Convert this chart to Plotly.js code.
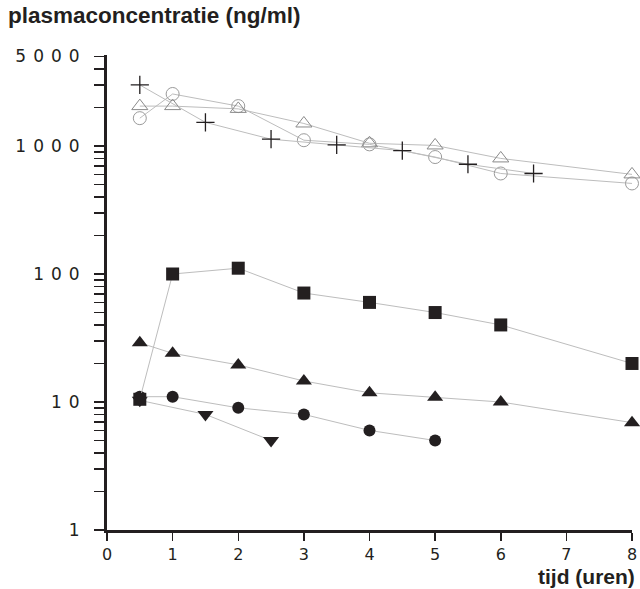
<!DOCTYPE html>
<html>
<head>
<meta charset="utf-8">
<script src="https://cdn.plot.ly/plotly-3.0.1.min.js"></script>
<style>
  html, body { margin: 0; padding: 0; background: #fff; }
  #chart { width: 640px; height: 589px; }
  .ytick text { letter-spacing: 7px; }
</style>
</head>
<body>
<div id="chart"></div>
<script>
// ---- data ----
const crossX   = [0.5, 1.5, 2.5, 3.5, 4.5, 5.5, 6.5];
const crossY   = [3000, 1530, 1130, 1020, 920, 720, 610];

const openTriX = [0.5, 1, 2, 3, 4, 5, 6, 8];
const openTriY = [2050, 2050, 1950, 1500, 1050, 1010, 800, 600];

const openCirX = [0.5, 1, 2, 3, 4, 5, 6, 8];
const openCirY = [1650, 2550, 2050, 1110, 1030, 820, 610, 510];

const squareX  = [0.5, 1, 2, 3, 4, 5, 6, 8];
const squareY  = [10.5, 100, 111, 71, 60, 50, 40, 20];

const triUpX   = [0.5, 1, 2, 3, 4, 5, 6, 8];
const triUpY   = [29, 24, 19.5, 14.6, 11.8, 10.9, 10, 6.9];

const dotX     = [0.5, 1, 2, 3, 4, 5];
const dotY     = [11, 11, 9, 8, 6, 5];

const triDnX   = [0.5, 1.5, 2.5];
const triDnY   = [10.3, 8, 5];

const yTickVals = [1,2,3,4,5,6,7,8,9,10,20,30,40,50,60,70,80,90,100,200,300,400,500,600,700,800,900,1000,2000,3000,4000,5000];
const yLabelled = {1:'1', 10:'10', 100:'100', 1000:'1000', 5000:'5000'};
const yTickText = yTickVals.map(v => yLabelled[v] || '');
const xTickVals = [0,1,2,3,4,5,6,7,8];
const xTickText = ['0','1','2','3','4','5','6','7','8'];

// ---- styles ----
const INK = '#231f20';
const LINE = {color: '#bdbdbd', width: 1};

function tr(x, y, marker) {
  return {x: x, y: y, type: 'scatter', mode: 'lines+markers', line: LINE,
          marker: marker, cliponaxis: false, hoverinfo: 'x+y', showlegend: false};
}

const data = [
  tr(triDnX, triDnY, {symbol: 'triangle-down', size: 14, color: INK}),
  tr(dotX, dotY, {symbol: 'circle', size: 12, color: INK}),
  tr(triUpX, triUpY, {symbol: 'triangle-up', size: 14, color: INK}),
  tr(squareX, squareY, {symbol: 'square', size: 13, color: INK}),
  tr(openCirX, openCirY, {symbol: 'circle-open', size: 13, color: '#9a9a9a', line: {width: 1, color: '#9a9a9a'}}),
  tr(openTriX, openTriY, {symbol: 'triangle-up-open', size: 14, color: '#8a8a8a', line: {width: 1, color: '#8a8a8a'}}),
  tr(crossX, crossY, {symbol: 'cross-thin-open', size: 13, color: INK, line: {width: 1.3, color: INK}})
];

const yTickFont = {family: 'DejaVu Sans, sans-serif', size: 17, color: INK};
const xTickFont = {family: 'DejaVu Sans, sans-serif', size: 16, color: INK};

const layout = {
  width: 640, height: 589,
  margin: {l: 107, r: 8, t: 55, b: 59},
  paper_bgcolor: '#fff', plot_bgcolor: '#fff',
  title: {
    text: '<b>plasmaconcentratie (ng/ml)</b>',
    font: {family: 'Liberation Sans, Arial, sans-serif', size: 22.5, color: INK},
    x: 8/640, xanchor: 'left', xref: 'container',
    y: 1 - 7/589, yanchor: 'top', yref: 'container'
  },
  xaxis: {
    range: [0, 8], showgrid: false, zeroline: false,
    showline: true, linewidth: 3, linecolor: INK,
    ticks: 'outside', ticklen: 8, tickwidth: 1.5, tickcolor: INK,
    tickvals: xTickVals, ticktext: xTickText,
    tickfont: xTickFont, ticklabelstandoff: 0
  },
  yaxis: {
    type: 'log', range: [0, 3.711], showgrid: false, zeroline: false,
    showline: true, linewidth: 3, linecolor: INK,
    ticks: 'outside', ticklen: 10, tickwidth: 1.5, tickcolor: INK,
    tickvals: yTickVals, ticktext: yTickText,
    tickfont: yTickFont, ticklabelstandoff: 4
  },
  annotations: [{
    text: '<b>tijd (uren)</b>', showarrow: false, borderpad: 0,
    xref: 'paper', yref: 'paper', x: 1 + 4/525, xanchor: 'right',
    y: -46/475, yanchor: 'middle',
    font: {family: 'Liberation Sans, Arial, sans-serif', size: 21, color: INK}
  }]
};

Plotly.newPlot('chart', data, layout, {displayModeBar: false, staticPlot: true});
</script>
</body>
</html>
